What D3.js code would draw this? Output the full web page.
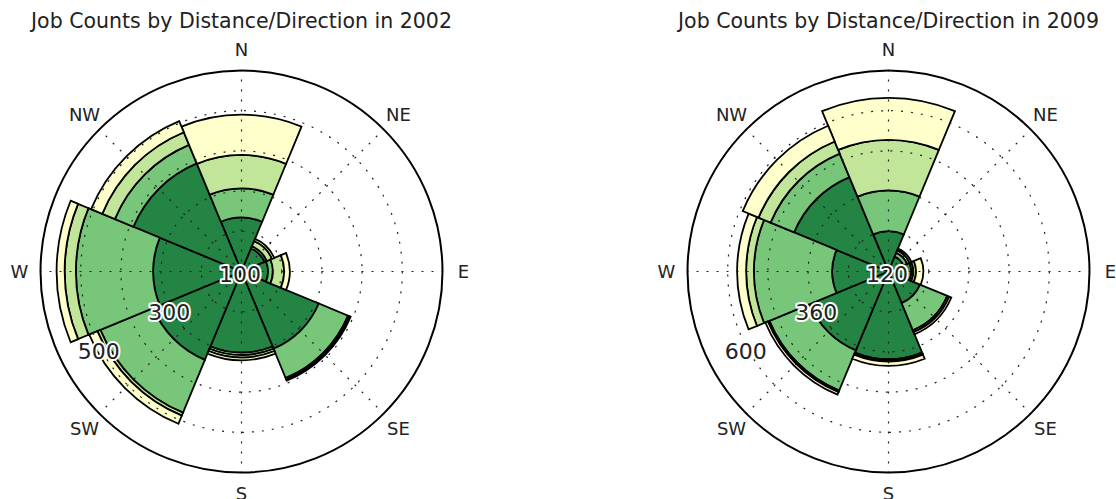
<!DOCTYPE html>
<html>
<head>
<meta charset="utf-8">
<script src="https://cdn.jsdelivr.net/npm/d3@7"></script>
<style>
  body { margin: 0; background: #fff; }
  svg { display: block; font-family: "DejaVu Sans", sans-serif; }
</style>
</head>
<body>
<svg id="chart" width="1116" height="499"></svg>
<script>
"use strict";

// compass directions, clockwise from north
const directions = ["N", "NE", "E", "SE", "S", "SW", "W", "NW"];
// distance bands, inner ring first
const bands = ["Less than 10 miles", "10 to 24 miles", "25 to 50 miles", "Greater than 50 miles"];
const bandColors = ["#238443", "#78c679", "#c2e699", "#ffffcc"];

// 2002 job counts by direction, one array per band
const jobs2002Under10 = [134, 62, 66, 208, 202, 238, 220, 291];
const jobs2002To24 = [73, 6, 12, 79, 6, 142, 192, 50];
const jobs2002To50 = [83, 14, 28, 3, 6, 8, 28, 34];
const jobs2002Over50 = [100, 6, 14, 4, 7, 22, 20, 30];

// 2009 job counts by direction, one array per band
const jobs2009Under10 = [120, 48, 68, 102, 262, 255, 168, 305];
const jobs2009To24 = [122, 12, 6, 88, 3, 130, 234, 76];
const jobs2009To50 = [151, 8, 8, 6, 4, 5, 23, 39];
const jobs2009Over50 = [125, 6, 22, 7, 13, 8, 27, 51];

// radial grid values and the ones that get a label
const grid2002 = [100, 200, 300, 400, 500];
const labels2002 = [100, 300, 500];
const grid2009 = [120, 240, 360, 480, 600];
const labels2009 = [120, 360, 600];

const svg = d3.select("#chart");
const outerR = 201;

function polar(r, a) {
    return [r * Math.sin(a), -r * Math.cos(a)];
}

function drawRose(cx, cy, year, series, grid, labelVals) {
    let g = svg.append("g").attr("transform", `translate(${cx},${cy})`);

    let rows = directions.map((d, i) => {
        let row = {dir: d, idx: i};
        bands.forEach((b, k) => row[b] = series[k][i]);
        return row;
    });
    let stacked = d3.stack().keys(bands)(rows);

    let r = d3.scaleLinear().domain([0, d3.max(grid)]).range([0, outerR]);
    let step = 2 * Math.PI / directions.length;

    let arc = d3.arc()
        .innerRadius(d => r(d[0]))
        .outerRadius(d => r(d[1]))
        .startAngle(d => d.data.idx * step - step / 2)
        .endAngle(d => d.data.idx * step + step / 2);

    // stacked bars, one layer at a time
    stacked.forEach((layer, k) => {
        g.append("g").selectAll("path").data(layer).enter().append("path")
            .attr("d", arc)
            .attr("fill", bandColors[k])
            .attr("stroke", "#000")
            .attr("stroke-width", 1.8)
            .attr("stroke-linejoin", "miter");
    });

    // dotted grid on top of the bars
    let grd = g.append("g").attr("fill", "none").attr("stroke", "#222")
        .attr("stroke-width", 1.2).attr("stroke-dasharray", "2,8");
    grd.selectAll("circle").data(grid.slice(0, -1)).enter().append("circle")
        .attr("r", d => r(d));
    grd.selectAll("line").data(directions).enter().append("line")
        .attr("x1", 0).attr("y1", 0)
        .attr("x2", (d, i) => polar(outerR, i * step)[0])
        .attr("y2", (d, i) => polar(outerR, i * step)[1]);

    // frame
    g.append("circle").attr("r", outerR).attr("fill", "none")
        .attr("stroke", "#000").attr("stroke-width", 2);

    // compass labels
    g.selectAll(".dir").data(directions).enter().append("text")
        .attr("class", "dir")
        .attr("x", (d, i) => polar(222, i * step)[0])
        .attr("y", (d, i) => polar(222, i * step)[1])
        .attr("dy", "0.36em")
        .attr("text-anchor", "middle")
        .attr("font-size", "18px")
        .attr("fill", "#222")
        .text(d => d);

    // radial tick labels with a white halo
    let labelAngle = (270 - 28.5) * Math.PI / 180;
    g.selectAll(".rlab").data(labelVals).enter().append("text")
        .attr("class", "rlab")
        .attr("x", d => polar(r(d), labelAngle)[0] + 33.8)
        .attr("y", d => polar(r(d), labelAngle)[1] - 16.7)
        .attr("dy", "0.36em")
        .attr("text-anchor", "middle")
        .attr("font-size", "22px")
        .attr("fill", "#222")
        .attr("stroke", "#fff")
        .attr("stroke-width", 4)
        .attr("stroke-linejoin", "round")
        .attr("paint-order", "stroke")
        .text(d => d);

    svg.append("text")
        .attr("x", cx).attr("y", 28)
        .attr("text-anchor", "middle")
        .attr("font-size", "20.5px")
        .attr("fill", "#222")
        .text("Job Counts by Distance/Direction in " + year);
}

drawRose(241.5, 271.5, 2002,
    [jobs2002Under10, jobs2002To24, jobs2002To50, jobs2002Over50], grid2002, labels2002);
drawRose(888.5, 271.5, 2009,
    [jobs2009Under10, jobs2009To24, jobs2009To50, jobs2009Over50], grid2009, labels2009);
</script>
</body>
</html>
